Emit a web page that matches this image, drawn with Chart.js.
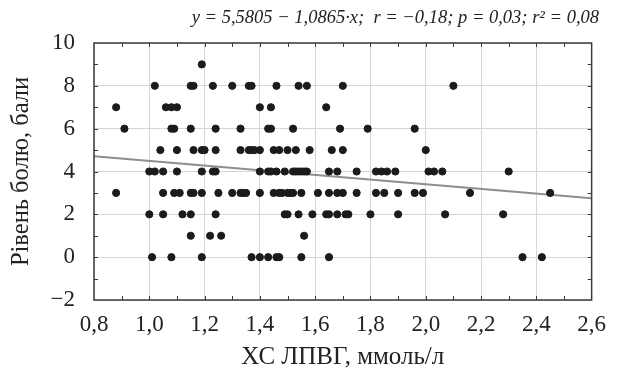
<!DOCTYPE html>
<html>
<head>
<meta charset="utf-8">
<script src="https://cdn.jsdelivr.net/npm/chart.js@4/dist/chart.umd.min.js"></script>
<style>
  html, body { margin: 0; padding: 0; background: #fff; }
  #wrap { width: 617px; height: 379px; }
</style>
</head>
<body>
<div id="wrap"><canvas id="myChart"></canvas></div>
<script>
// ХС ЛПВГ (x) for each pain score (y)
const hdlPain9 = [1.19];
const hdlPain8 = [1.02, 1.15, 1.16, 1.23, 1.30, 1.36, 1.37, 1.46, 1.54, 1.57, 1.70, 2.10];
const hdlPain7 = [0.88, 1.06, 1.08, 1.10, 1.40, 1.44, 1.64];
const hdlPain6 = [0.91, 1.08, 1.09, 1.15, 1.24, 1.33, 1.43, 1.44, 1.52, 1.69, 1.79, 1.96];
const hdlPain5 = [1.04, 1.10, 1.16, 1.19, 1.20, 1.24, 1.33, 1.36, 1.37, 1.38, 1.40, 1.45, 1.47, 1.50, 1.53, 1.58, 1.66, 1.70, 2.00];
const hdlPain4 = [1.00, 1.02, 1.05, 1.10, 1.19, 1.23, 1.24, 1.40, 1.43, 1.44, 1.46, 1.49, 1.52, 1.53, 1.54, 1.55, 1.56, 1.57, 1.65, 1.68, 1.75, 1.82, 1.84, 1.86, 1.89, 2.01, 2.03, 2.06, 2.30];
const hdlPain3 = [0.88, 1.05, 1.09, 1.11, 1.15, 1.16, 1.19, 1.25, 1.30, 1.33, 1.34, 1.35, 1.40, 1.45, 1.47, 1.48, 1.50, 1.51, 1.52, 1.55, 1.61, 1.65, 1.68, 1.70, 1.75, 1.82, 1.85, 1.90, 1.96, 1.99, 2.16, 2.45];
const hdlPain2 = [1.00, 1.05, 1.12, 1.15, 1.24, 1.49, 1.50, 1.54, 1.59, 1.64, 1.65, 1.68, 1.71, 1.72, 1.80, 1.90, 2.07, 2.28];
const hdlPain1 = [1.15, 1.22, 1.26, 1.56];
const hdlPain0 = [1.01, 1.08, 1.19, 1.37, 1.40, 1.43, 1.46, 1.47, 1.55, 1.65, 2.35, 2.42];

const painGroups = [hdlPain0, hdlPain1, hdlPain2, hdlPain3, hdlPain4, hdlPain5, hdlPain6, hdlPain7, hdlPain8, hdlPain9];

// regression y = 5,5805 - 1,0865*x
const fitIntercept = 5.5805;
const fitSlope = -1.0865;
const fitX = [0.8, 2.6];

const xTickLabels = ["0,8", "1,0", "1,2", "1,4", "1,6", "1,8", "2,0", "2,2", "2,4", "2,6"];
const yTickLabels = ["\u22122", "0", "2", "4", "6", "8", "10"];

const points = [];
painGroups.forEach((xs, score) => {
  xs.forEach(x => points.push({x: x, y: score}));
});
const fitLine = fitX.map(x => ({x: x, y: fitIntercept + fitSlope * x}));

const serif = "'Liberation Serif', 'DejaVu Serif', serif";

// frame with small inward ticks, like the original plot
const frameTicks = {
  id: "frameTicks",
  afterDraw(chart) {
    const ctx = chart.ctx;
    const a = chart.chartArea;
    const xs = chart.scales.x, ys = chart.scales.y;
    ctx.save();
    ctx.strokeStyle = "#3a3a3a";
    ctx.lineWidth = 1;
    const len = 4;
    ctx.beginPath();
    for (let i = 1; i < 18; i++) {
      const px = Math.round(xs.getPixelForValue(0.8 + i * 0.1)) + 0.5;
      ctx.moveTo(px, a.top); ctx.lineTo(px, a.top + len);
      ctx.moveTo(px, a.bottom); ctx.lineTo(px, a.bottom - len);
    }
    for (let v = -1; v < 10; v++) {
      const py = Math.round(ys.getPixelForValue(v)) + 0.5;
      ctx.moveTo(a.left, py); ctx.lineTo(a.left + len, py);
      ctx.moveTo(a.right, py); ctx.lineTo(a.right - len, py);
    }
    ctx.stroke();
    ctx.lineWidth = 1.5;
    ctx.strokeRect(a.left, a.top, a.right - a.left, a.bottom - a.top);
    ctx.restore();
  }
};

new Chart(document.getElementById("myChart"), {
  type: "scatter",
  data: {
    datasets: [
      {
        label: "Пацієнти",
        data: points,
        backgroundColor: "#1b1b1b",
        borderColor: "#1b1b1b",
        pointRadius: 3.6,
        pointHoverRadius: 3.6,
        order: 1
      },
      {
        type: "line",
        label: "Регресія",
        data: fitLine,
        borderColor: "#8e8e8e",
        borderWidth: 2,
        pointRadius: 0,
        fill: false,
        order: 2
      }
    ]
  },
  options: {
    responsive: true,
    maintainAspectRatio: false,
    animation: false,
    layout: { padding: { top: 0, right: 18, bottom: 0, left: 0 } },
    plugins: {
      legend: { display: false },
      tooltip: { enabled: false },
      title: {
        display: true,
        text: "y = 5,5805 \u2212 1,0865\u00b7x;  r = \u22120,18; p = 0,03; r\u00b2 = 0,08",
        align: "end",
        color: "#222",
        font: { family: serif, size: 18.5, style: "italic", weight: "normal", lineHeight: 1.2 },
        padding: { top: 7, bottom: 13.8 }
      }
    },
    scales: {
      x: {
        type: "linear",
        min: 0.8,
        max: 2.6,
        afterFit: (s) => { s.height = 79; },
        border: { display: false },
        grid: { color: "#d6d6d6", lineWidth: 1, drawTicks: false },
        ticks: {
          stepSize: 0.2,
          padding: 11,
          color: "#222",
          font: { family: serif, size: 23 },
          callback: (v, i) => xTickLabels[i]
        },
        title: {
          display: true,
          text: "ХС ЛПВГ, ммоль/л",
          color: "#222",
          font: { family: serif, size: 25, lineHeight: 1.2 },
          padding: { top: 0, bottom: 7 }
        }
      },
      y: {
        min: -2,
        max: 10,
        afterFit: (s) => { s.width = 94; },
        border: { display: false },
        grid: { color: "#d6d6d6", lineWidth: 1, drawTicks: false },
        ticks: {
          stepSize: 2,
          padding: 19,
          color: "#222",
          font: { family: serif, size: 23 },
          callback: (v, i) => yTickLabels[i]
        },
        title: {
          display: true,
          text: "Рівень болю, бали",
          color: "#222",
          font: { family: serif, size: 24.5, lineHeight: 1.2 },
          padding: { top: 7, bottom: 0 }
        }
      }
    }
  },
  plugins: [frameTicks]
});
</script>
</body>
</html>
